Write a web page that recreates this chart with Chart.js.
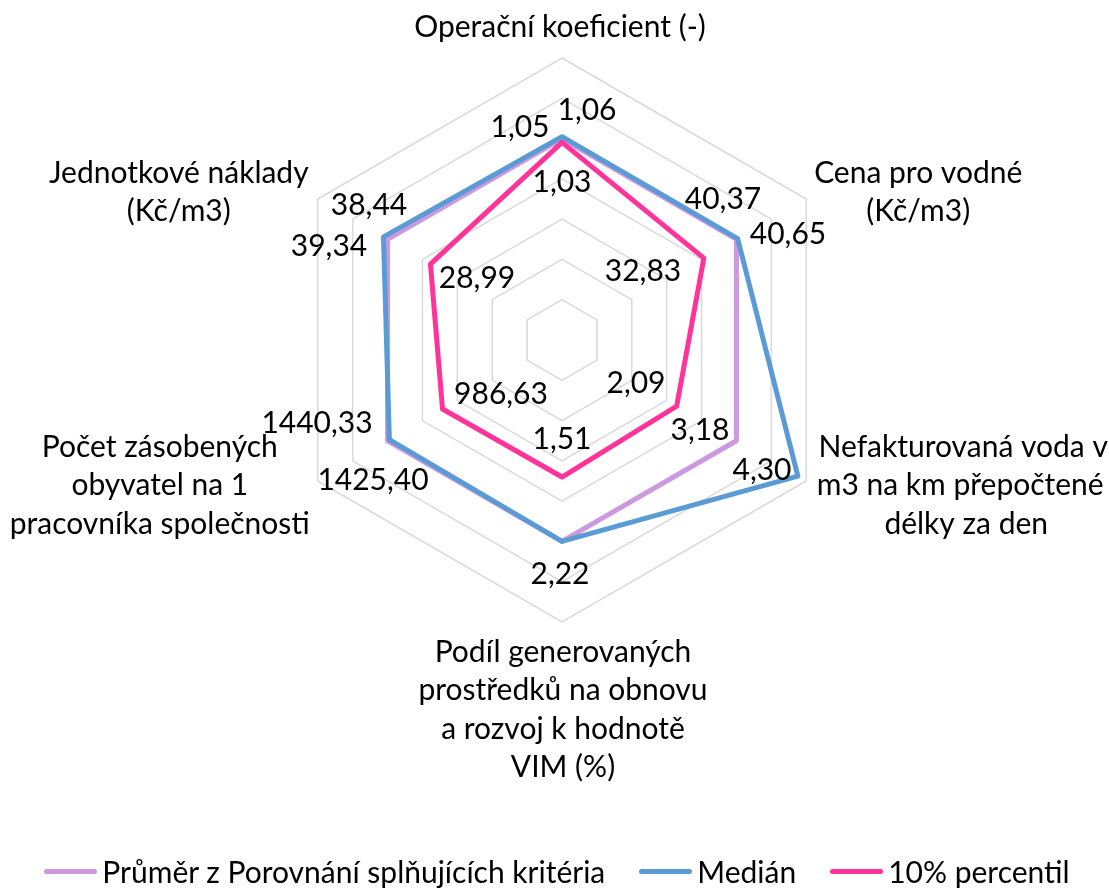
<!DOCTYPE html>
<html>
<head>
<meta charset="utf-8">
<script src="https://cdn.jsdelivr.net/npm/chart.js@4.4.1/dist/chart.umd.min.js"></script>
<style>
  html, body { margin: 0; padding: 0; background: #ffffff; }
  #wrap { position: relative; width: 1109px; height: 888px; overflow: hidden; }
  #c { position: absolute; left: 0; top: 0; }
  #legend {
    position: absolute; left: 5px; top: 851px; width: 1104px; height: 40px;
    display: flex; justify-content: center; align-items: center;
    font-family: Lato, "Open Sans", sans-serif; font-size: 30px; color: #000;
    white-space: nowrap;
  }
  .item { display: flex; align-items: center; margin: 0 17px; }
  .swatch { width: 53px; height: 5px; border-radius: 3px; margin-right: 5px; }
</style>
</head>
<body>
<div id="wrap">
  <canvas id="c" width="1109" height="888"></canvas>
  <div id="legend"></div>
</div>
<script>
// ---- data ----
const categories = [
  ["Operační koeficient (-)"],
  ["Cena pro vodné", "(Kč/m3)"],
  ["Nefakturovaná voda v", "m3 na km přepočtené", "délky za den"],
  ["Podíl generovaných", "prostředků na obnovu", "a rozvoj k hodnotě", "VIM (%)"],
  ["Počet zásobených", "obyvatel na 1", "pracovníka společnosti"],
  ["Jednotkové náklady", "(Kč/m3)"]
];
const seriesNames = ["Průměr z Porovnání splňujících kritéria", "Medián", "10% percentil"];
const prumer      = [1.05, 40.37, 3.18, 2.22, 1440.33, 38.44];
const median      = [1.06, 40.65, 4.30, 2.22, 1425.40, 39.34];
const percentil10 = [1.03, 32.83, 2.09, 1.51, 986.63, 28.99];

// ---- styles / layout ----
const colors = ["#CC99E0", "#5B9BD5", "#FF3399"];
const FONT = '30px Lato, "Open Sans", sans-serif';
// label offsets (text center relative to the plotted point), per series
const labelOffsets = [
  [[-42,-13], [-13,-41], [-36,-12], [-2,32], [-71,-19], [-19,-35]],
  [[25,-28], [50,-6], [-36,-7], [-2,32], [-16,39], [-54,8]],
  [[0,39], [-61,12], [-41,-24], [0,-39], [58,-16], [47,13]]
];
// category label block: center x offset, first baseline offset from outer vertex
const catOffsets = [[-2,-21], [112,-16], [154,-24], [1,40], [-158,-24], [-139,-16]];
// extra per-line horizontal shifts inside a label block
const catLineDx = [[0], [0, 0], [3, 0, 6], [0, 0, 0, 0], [0, 0, 0], [0, 0]];
const LINE_H = 38.3;

// each axis is shown relative to the average series (as in the original chart)
const seriesRaw = [prumer, median, percentil10];
const seriesNorm = seriesRaw.map(s => s.map((v, i) => v / prumer[i]));
const fmt = v => v.toFixed(2).replace('.', ',');

const labelsPlugin = {
  id: 'customLabels',
  afterDatasetsDraw(chart) {
    const ctx = chart.ctx;
    const scale = chart.scales.r;
    ctx.save();
    ctx.font = FONT;
    ctx.fillStyle = '#000';
    ctx.textAlign = 'center';
    ctx.textBaseline = 'alphabetic';
    // category labels
    const outer = scale.getDistanceFromCenterForValue(scale.max);
    categories.forEach((lines, i) => {
      const p = scale.getPointPosition(i, outer);
      const [dx, dy] = catOffsets[i];
      lines.forEach((t, k) => ctx.fillText(t, p.x + dx + catLineDx[i][k], p.y + dy + k * LINE_H));
    });
    // data labels (identical overlapping labels drawn once)
    const drawn = new Set();
    seriesRaw.forEach((s, di) => {
      const meta = chart.getDatasetMeta(di);
      meta.data.forEach((pt, i) => {
        const [dx, dy] = labelOffsets[di][i];
        const x = Math.round(pt.x + dx), y = Math.round(pt.y + dy + 11);
        const key = fmt(s[i]) + '@' + x + ',' + y;
        if (drawn.has(key)) return;
        drawn.add(key);
        ctx.fillText(fmt(s[i]), x, y);
      });
    });
    ctx.restore();
  }
};

new Chart(document.getElementById('c'), {
  type: 'radar',
  data: {
    labels: categories,
    datasets: seriesNames.map((name, di) => ({
      label: name,
      data: seriesNorm[di],
      borderColor: colors[di],
      backgroundColor: colors[di],
      borderWidth: 5,
      fill: false,
      pointRadius: 0,
      pointHoverRadius: 0,
      borderJoinStyle: 'round',
      order: 3 - di
    }))
  },
  options: {
    responsive: false,
    animation: false,
    devicePixelRatio: 1,
    layout: { padding: { top: 58, bottom: 266, left: 15, right: 0 } },
    plugins: { legend: { display: false }, tooltip: { enabled: false } },
    elements: { line: { tension: 0 } },
    scales: {
      r: {
        min: 0, max: 1.4,
        ticks: { stepSize: 0.2, display: false },
        grid: { color: '#d9d9d9', lineWidth: 1.5 },
        angleLines: { display: false },
        pointLabels: { display: false }
      }
    }
  },
  plugins: [labelsPlugin]
});

// HTML legend
const lg = document.getElementById('legend');
seriesNames.forEach((n, i) => {
  const it = document.createElement('div'); it.className = 'item';
  const sw = document.createElement('span'); sw.className = 'swatch'; sw.style.background = colors[i];
  const tx = document.createElement('span'); tx.textContent = n;
  it.appendChild(sw); it.appendChild(tx); lg.appendChild(it);
});
</script>
</body>
</html>
